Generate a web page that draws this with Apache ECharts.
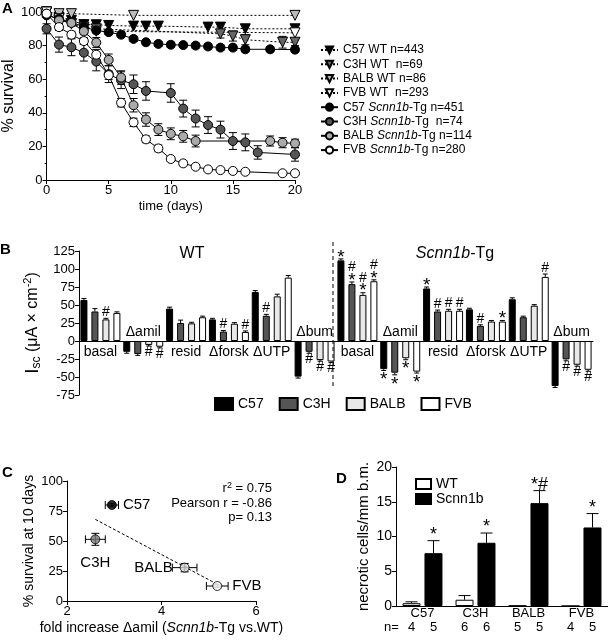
<!DOCTYPE html>
<html><head><meta charset="utf-8">
<script src="https://cdn.jsdelivr.net/npm/echarts@6/dist/echarts.min.js"></script>
<style>html,body{margin:0;padding:0;background:#fff;}#chart{width:608px;height:640px;}</style>
</head><body><div id="chart"></div>
<script>
// ===== Panel A: survival (days, % survival, SEM) =====
const daysC57WT  = [0,1,2,3,4,5,7,8,9,13,14,16,20];
const survC57WT  = [100,97,95,92.5,92.4,92,91.6,91.6,91.6,91,91,90,90];
const daysC3HWT  = [0,1,2,3,4,14,15,16,19,20];
const survC3HWT  = [100,96,93,91,90,87,85.7,83.5,82,82];
const errC3HWT   = [0,0,1,1.5,1.5,2.5,3,3,3.5,2];
const daysBALBWT = [0,1,2,7,20];
const survBALBWT = [100,99,99,98,98];
const daysFVBWT  = [0,1,2,3,4,20];
const survFVBWT  = [100,96,93,90,88.5,87.6];

const daysC57Tg  = [0,1,2,3,4,5,6,7,8,9,10,11,12,13,14,15,16,18,20];
const survC57Tg  = [98,96,94,91,89,88,86.5,84,82,81,80.5,80.3,80,79.5,78.8,78.8,77.8,77.8,77.6];
const errC57Tg   = [1,1,1,1.5,1.5,1.5,1.5,1.5,1.5,1.5,1.5,1.5,1.5,1.5,1.5,1.5,1.5,1.5,1.5];
const daysC3HTg  = [0,1,2,3,4,5,6,7,8,10,11,12,13,14,15,16,17,20];
const survC3HTg  = [90,80.6,79,75.8,70.5,63,59.4,57,53,51.8,42.5,36.6,32.7,30,23.2,22.4,16.4,15.2];
const errC3HTg   = [3,4.5,5,5,5.5,5,5,5.5,5.5,5.5,5,5,5,5,5,5,4,4];
const daysBALBTg = [0,1,2,3,4,5,6,7,8,9,10,11,12,18,19,20];
const survBALBTg = [99,95,93.5,88.5,81.8,71.5,61,44.5,36,30,27.5,26,23.2,23.2,22.2,21.8];
const errBALBTg  = [1,2,2,2,3,3.5,4,4,4,3.5,3.5,3.5,3.5,3,3,2.5];
const daysFVBTg  = [0,1,2,3,4,5,6,7,8,9,10,11,12,13,14,15,16,19,20];
const survFVBTg  = [99,91,86.5,82.7,74.6,62.4,46,34.3,24.2,18.8,12.5,9.9,7.9,6.3,5.9,5.4,4.9,4,4];
const errFVBTg   = [1,2,2,2,3,2.5,2.5,2.5,2,2,1.5,1.5,1,1,1,1,1,1,1];

const legendA = ['C57 WT n=443','C3H WT  n=69','BALB WT n=86','FVB WT  n=293',
                 'C57 Scnn1b-Tg n=451','C3H Scnn1b-Tg  n=74','BALB Scnn1b-Tg n=114','FVB Scnn1b-Tg n=280'];

// ===== Panel B: Isc bars =====
const bGroups = ['basal','Δamil','resid','Δforsk','ΔUTP','Δbum','basal','Δamil','resid','Δforsk','ΔUTP','Δbum'];
const bStrainNames = ['C57','C3H','BALB','FVB'];
const bC57  = [57,-15,45,30,68,-49.5, 112,-39,73,44,58,-62.5];
const bC3H  = [41,-18,25,13,35,-15,   79,-44,41,21,33,-25.5];
const bBALB = [30,-5.5,24.5,24,62,-26.5, 64,-24,42,27,49,-33];
const bFVB  = [39,-8,33,12.5,88,-28.5, 83,-42.5,42,27,89,-40];
const bErrC57  = [2,2,2,1.5,2,2, 2,2,2,1.5,2,2];
const bErrC3H  = [4,2,4,1.5,2,2, 3,3,2,1.5,1.5,2];
const bErrBALB = [1.5,1.5,1.5,1.5,3,1.5, 3,2,2,1.5,1.5,2];
const bErrFVB  = [1.5,1.5,1.5,1.5,3,1.5, 2,2,2,1.5,4,2];
const bAnnC57  = ['','','','','','', '*','*','*','','',''];
const bAnnC3H  = ['','','','#','#','#', '#\n*','*','#','#','','#'];
const bAnnBALB = ['#','#','','','','#', '#\n*','*','#','','','#'];
const bAnnFVB  = ['','#','','#','','#', '#\n*','*','#','*','#','#'];
const bTitles = ['WT','Scnn1b-Tg'];

// ===== Panel C: correlation =====
const cNames   = ['C57','C3H','BALB','FVB'];
const cFold    = [2.95,2.6,4.49,5.18];
const cFoldErr = [0.14,0.21,0.26,0.23];
const cSurv    = [80,51.4,27.8,12.5];
const cSurvErr = [1.5,5,3.5,1.5];
const cFitX = [2.6,5.18];
const cFitY = [68,14];
const cStats = ['{r|r}{s|2}{r| = 0.75}','Pearson r = -0.86','p= 0.13'];

// ===== Panel D: necrotic cells =====
const dCats   = ['C57','C3H','BALB','FVB'];
const dWT     = [0.4,0.9,0.05,0];
const dWTErr  = [0.2,0.6,0,0];
const dTg     = [7.6,9.1,14.8,11.3];
const dTgErr  = [1.8,1.4,1.8,2.0];
const dNWT    = [4,6,5,4];
const dNTg    = [5,6,5,5];
const dAnn    = ['*','*','*#','*'];

// ===== build =====
const F = '"Liberation Sans", Arial, sans-serif';
const chart = echarts.init(document.getElementById('chart'));
const BLK = {color:'#000', width:1};
function ax(extra){
  return Object.assign({
    axisLine:{show:true, onZero:false, lineStyle:BLK},
    axisTick:{show:true, length:4, lineStyle:BLK},
    axisLabel:{color:'#000', fontFamily:F, fontSize:13, margin:4},
    splitLine:{show:false},
    nameTextStyle:{color:'#000', fontFamily:F, fontSize:13}
  }, extra);
}
const zip = (a,b,c) => a.map((v,i)=> c ? [v,b[i],c[i]] : [v,b[i]]);
const down = 'path://M0,0L10,0L5,9Z';

function vErr(xi, yi, pts, cap, z){
  return {type:'custom', xAxisIndex:xi, yAxisIndex:yi, z, silent:true, animation:false,
    data: pts, renderItem(params, api){
      const x=api.value(0), y=api.value(1), e=api.value(2);
      if(!e) return null;
      const a=api.coord([x,y+e]), b=api.coord([x,y-e]);
      const st={stroke:'#000', lineWidth:1};
      return {type:'group', children:[
        {type:'line', shape:{x1:a[0],y1:a[1],x2:b[0],y2:b[1]}, style:st},
        {type:'line', shape:{x1:a[0]-cap,y1:a[1],x2:a[0]+cap,y2:a[1]}, style:st},
        {type:'line', shape:{x1:b[0]-cap,y1:b[1],x2:b[0]+cap,y2:b[1]}, style:st}]};
    }};
}
function lineA(name, days, vals, symbol, fill, dashed, z){
  return {name, type:'line', xAxisIndex:0, yAxisIndex:0, data: zip(days, vals), symbol, symbolSize: symbol==='circle'?9:10,
    showSymbol:true, animation:false, z,
    itemStyle:{color:fill, borderColor:'#000', borderWidth:1},
    lineStyle:{color:'#000', width:1, type: dashed ? [2,2] : 'solid'}};
}

const series = [
  lineA(legendA[0], daysC57WT, survC57WT, down, '#000', true, 3),
  lineA(legendA[1], daysC3HWT, survC3HWT, down, '#666', true, 3),
  lineA(legendA[2], daysBALBWT, survBALBWT, down, '#bbb', true, 3),
  lineA(legendA[3], daysFVBWT, survFVBWT, down, '#fff', true, 3),
  vErr(0,0, zip(daysC3HWT, survC3HWT, errC3HWT), 4, 2),
  vErr(0,0, zip(daysC57Tg, survC57Tg, errC57Tg), 4, 4),
  vErr(0,0, zip(daysC3HTg, survC3HTg, errC3HTg), 4, 4),
  vErr(0,0, zip(daysBALBTg, survBALBTg, errBALBTg), 4, 4),
  vErr(0,0, zip(daysFVBTg, survFVBTg, errFVBTg), 4, 4),
  lineA(legendA[4], daysC57Tg, survC57Tg, 'circle', '#000', false, 5),
  lineA(legendA[5], daysC3HTg, survC3HTg, 'circle', '#555', false, 5),
  lineA(legendA[6], daysBALBTg, survBALBTg, 'circle', '#aaa', false, 5),
  lineA(legendA[7], daysFVBTg, survFVBTg, 'circle', '#fff', false, 5),
];

// Panel B bars
const bVals = [bC57,bC3H,bBALB,bFVB];
const bErrs = [bErrC57,bErrC3H,bErrBALB,bErrFVB];
const bAnns = [bAnnC57,bAnnC3H,bAnnBALB,bAnnFVB];
const bFill = ['#000','#555','#e8e8e8','#fff'];
bStrainNames.forEach((n,s)=>{
  series.push({name:n, type:'bar', xAxisIndex:1, yAxisIndex:1, data:bVals[s], barWidth:7, barGap:'57%',
    animation:false, itemStyle:{color:bFill[s], borderColor:'#000', borderWidth:1}});
});
const bItems = [];
bVals.forEach((arr,s)=>arr.forEach((v,i)=>bItems.push([i, v, bErrs[s][i], s])));
series.push({type:'custom', xAxisIndex:1, yAxisIndex:1, z:5, silent:true, animation:false,
  data: bItems, renderItem(params, api){
    const [i,v,e,s] = bItems[params.dataIndex];
    const sg = v >= 0 ? 1 : -1;
    const off = (s-1.5)*11;
    const a = api.coord([i, v]); const b = api.coord([i, v+sg*e]);
    const x = a[0]+off;
    const st={stroke:'#000', lineWidth:1};
    const ch = [
      {type:'line', shape:{x1:x,y1:a[1],x2:x,y2:b[1]}, style:st},
      {type:'line', shape:{x1:x-2.5,y1:b[1],x2:x+2.5,y2:b[1]}, style:st}];
    const t = bAnns[s][i];
    if (t) {
      const lines = t.split('\n');
      // stack glyphs: '#' smaller, '*' larger
      let y = sg>0 ? b[1]-1 : b[1]+1;
      const order = sg>0 ? lines.slice().reverse() : lines;
      order.forEach(ln=>{
        const star = ln==='*';
        const h = star ? 9 : 10;
        const yc = sg>0 ? y - h/2 : y + h/2;
        ch.push({type:'text', style:{text:ln, x:x, y: yc + (star ? 4 : 0), fill:'#000',
          font:(star?'19px ':'14px ')+F, align:'center', verticalAlign:'middle'}});
        y = sg>0 ? y - h : y + h;
      });
    }
    return {type:'group', children:ch};
  }});

// Panel C
series.push({type:'line', xAxisIndex:2, yAxisIndex:2, data: zip(cFitX, cFitY), symbol:'none', silent:true,
  animation:false, lineStyle:{color:'#000', width:1, type:[3,2]}, z:2});
series.push(vErr(2,2, zip(cFold, cSurv, cSurvErr), 4, 3));
series.push({type:'custom', xAxisIndex:2, yAxisIndex:2, z:3, silent:true, animation:false,
  data: zip(cFold, cSurv, cFoldErr), renderItem(params, api){
    const x=api.value(0), y=api.value(1), e=api.value(2);
    const a=api.coord([x-e,y]), b=api.coord([x+e,y]);
    const st={stroke:'#000', lineWidth:1};
    return {type:'group', children:[
      {type:'line', shape:{x1:a[0],y1:a[1],x2:b[0],y2:b[1]}, style:st},
      {type:'line', shape:{x1:a[0],y1:a[1]-4,x2:a[0],y2:a[1]+4}, style:st},
      {type:'line', shape:{x1:b[0],y1:b[1]-4,x2:b[0],y2:b[1]+4}, style:st}]};
  }});
const cFill = ['#000','#777','#d0d0d0','#fff'];
series.push({type:'scatter', xAxisIndex:2, yAxisIndex:2, z:4, animation:false, symbolSize:9, silent:true,
  data: cNames.map((n,i)=>({value:[cFold[i], cSurv[i]], name:n,
    itemStyle:{color:cFill[i], borderColor:'#000', borderWidth:1}}))});

// Panel D
series.push({name:'WT', type:'bar', xAxisIndex:3, yAxisIndex:3, data:dWT, barWidth:18, barGap:'22%', animation:false,
  itemStyle:{color:'#fff', borderColor:'#000', borderWidth:1}});
series.push({name:'Scnn1b', type:'bar', xAxisIndex:3, yAxisIndex:3, data:dTg, barWidth:18, animation:false,
  itemStyle:{color:'#000', borderColor:'#000', borderWidth:1}});
const dItems = [];
[dWT,dTg].forEach((arr,s)=>arr.forEach((v,i)=>dItems.push([i, v, (s?dTgErr:dWTErr)[i], s])));
series.push({type:'custom', xAxisIndex:3, yAxisIndex:3, z:5, silent:true, animation:false,
  data: dItems, renderItem(params, api){
    const [i,v,e,s] = dItems[params.dataIndex];
    const off = (s-0.5)*22;
    const a = api.coord([i, v]); const b = api.coord([i, v+e]);
    const x = a[0]+off;
    const st={stroke:'#000', lineWidth:1};
    const ch = [];
    if (e) { ch.push({type:'line', shape:{x1:x,y1:a[1],x2:x,y2:b[1]}, style:st},
      {type:'line', shape:{x1:x-6,y1:b[1],x2:x+6,y2:b[1]}, style:st}); }
    if (s===1) ch.push({type:'text', style:{text:dAnn[i], x:x, y:b[1]+3, fill:'#000', font:'18px '+F,
      align:'center', verticalAlign:'bottom'}});
    return {type:'group', children:ch};
  }});

const option = {
  animation:false,
  backgroundColor:'#fff',
  textStyle:{fontFamily:F, color:'#000'},
  grid:[
    {left:40, top:12, width:255, height:168},
    {left:79, top:251, width:514, height:144},
    {left:67, top:481, width:189, height:120},
    {left:396, top:467, width:216, height:139}
  ],
  xAxis:[
    ax({gridIndex:0, type:'value', min:0, max:20, interval:5, name:'time (days)', nameLocation:'middle', nameGap:20,
        nameTextStyle:{color:'#000', fontFamily:F, fontSize:13}}),
    ax({gridIndex:1, type:'category', data:bGroups, axisLine:{show:true, onZero:true, lineStyle:BLK},
        axisTick:{show:false}, axisLabel:{show:false}}),
    ax({gridIndex:2, type:'value', min:2, max:6, interval:2, name:'{n|fold increase Δamil (}{i|Scnn1b}{n|-Tg vs.WT)}',
        nameLocation:'middle', nameGap:20,
        nameTextStyle:{rich:{n:{fontFamily:F, fontSize:14, color:'#000'}, i:{fontFamily:F, fontSize:14, fontStyle:'italic', color:'#000'}}}}),
    ax({gridIndex:3, type:'category', data:dCats, axisTick:{show:false},
        axisLabel:{color:'#000', fontFamily:F, fontSize:13, margin:1}})
  ],
  yAxis:[
    ax({gridIndex:0, type:'value', min:0, max:100, interval:20, minorTick:{show:true, splitNumber:2, length:2, lineStyle:BLK},
        name:'% survival', nameLocation:'middle', nameGap:24, nameTextStyle:{color:'#000', fontFamily:F, fontSize:16}}),
    ax({gridIndex:1, type:'value', min:-75, max:125, interval:25,
        name:'{I|I}{s|sc}{n| (μA × cm}{p|-2}{n|)}', nameLocation:'middle', nameGap:30,
        nameTextStyle:{rich:{
          I:{fontFamily:F, fontSize:19, color:'#000', lineHeight:20},
          s:{fontFamily:F, fontSize:12, color:'#000', verticalAlign:'bottom', lineHeight:20},
          n:{fontFamily:F, fontSize:16, color:'#000', lineHeight:20},
          p:{fontFamily:F, fontSize:11, color:'#000', verticalAlign:'top', lineHeight:20}}}}),
    ax({gridIndex:2, type:'value', min:0, max:100, interval:25, name:'% survival at 10 days', nameLocation:'middle', nameGap:31,
        nameTextStyle:{color:'#000', fontFamily:F, fontSize:14}}),
    ax({gridIndex:3, type:'value', min:0, max:20, interval:5, name:'necrotic cells/mm b.m.', nameLocation:'middle', nameGap:25,
        axisLabel:{color:'#000', fontFamily:F, fontSize:14, margin:4},
        nameTextStyle:{color:'#000', fontFamily:F, fontSize:15}})
  ],
  legend:[
    {data:legendA, left:315, top:38, orient:'vertical', itemWidth:17, itemHeight:9, itemGap:0.3, selectedMode:false,
     formatter: n => n.indexOf('Scnn1b')>=0 ? n.replace('Scnn1b','{i|Scnn1b}') : n,
     textStyle:{fontFamily:F, fontSize:12, color:'#000', lineHeight:14,
       rich:{i:{fontFamily:F, fontSize:12, fontStyle:'italic', color:'#000', lineHeight:14}}}},
    {data:bStrainNames, left:209, top:392, orient:'horizontal', icon:'rect', itemWidth:18, itemHeight:12, itemGap:15,
     selectedMode:false, textStyle:{fontFamily:F, fontSize:14, color:'#000'}},
    {data:['WT','Scnn1b'], left:410, top:472, orient:'vertical', icon:'rect', itemWidth:15, itemHeight:10, itemGap:1,
     selectedMode:false, textStyle:{fontFamily:F, fontSize:14, color:'#000', lineHeight:14}}
  ],
  series
};
chart.setOption(option);

// ---- annotations positioned through the axes ----
const g = [];
const txt = (x,y,text,size,extra) => Object.assign({type:'text', z:100, style:Object.assign({x, y, text, fill:'#000',
  font: size+'px '+F, align:'center', verticalAlign:'middle'}, extra||{})});
const bold = s => ({font:'bold '+s+'px '+F, align:'left', verticalAlign:'top'});
g.push(txt(2,1,'A',15,bold(15)), txt(0,242,'B',15,bold(15)), txt(2,465,'C',15,bold(15)), txt(336,471,'D',15,bold(15)));
// panel B category labels
bGroups.forEach((lab,i)=>{
  const p = chart.convertToPixel({xAxisIndex:1, yAxisIndex:1}, [i, 0]);
  const neg = bC57[i] < 0;
  g.push(txt(p[0], p[1] + (neg ? -9 : 11), lab, 14));
});
const p5 = chart.convertToPixel({xAxisIndex:1, yAxisIndex:1}, [5, 0]);
const p6 = chart.convertToPixel({xAxisIndex:1, yAxisIndex:1}, [6, 0]);
const xm = (p5[0]+p6[0])/2 - 3;
g.push({type:'line', z:100, shape:{x1:xm, y1:242, x2:xm, y2:387}, style:{stroke:'#000', lineWidth:1, lineDash:[4,3]}});
g.push(txt(192, 254, bTitles[0], 16));
g.push({type:'text', z:100, style:{x:455, y:254, text:'{i|Scnn1b}{n|-Tg}', align:'center', verticalAlign:'middle',
  rich:{i:{font:'italic 16px '+F, fill:'#000'}, n:{font:'16px '+F, fill:'#000'}}}});
// panel C point labels
const cPos = ['right','bottom','left','right'];
const cDist = [11,16,12,15];
cNames.forEach((n,i)=>{
  const p = chart.convertToPixel({xAxisIndex:2, yAxisIndex:2}, [cFold[i], cSurv[i]]);
  const pos = cPos[i], d = cDist[i];
  if (pos==='right') g.push(txt(p[0]+d, p[1], n, 15, {align:'left'}));
  else if (pos==='left') g.push(txt(p[0]-d, p[1], n, 15, {align:'right'}));
  else g.push(txt(p[0], p[1]+d, n, 15, {verticalAlign:'top'}));
});
// panel C stats
cStats.forEach((s,k)=>{
  g.push({type:'text', z:100, style:{x:272, y:[488,503,517][k], text:s, align:'right', verticalAlign:'middle',
    font:'13px '+F, fill:'#000',
    rich:{r:{font:'13px '+F, fill:'#000'}, s:{font:'9px '+F, fill:'#000', verticalAlign:'top'}}}});
});
// panel D n row
g.push(txt(384, 627, 'n=', 13, {align:'left'}));
dCats.forEach((c,i)=>{
  const p = chart.convertToPixel({xAxisIndex:3, yAxisIndex:3}, [i, 0]);
  g.push(txt(p[0]-11, 627, String(dNWT[i]), 13));
  g.push(txt(p[0]+11, 627, String(dNTg[i]), 13));
});
chart.setOption({graphic:g});
</script>
</body></html>
